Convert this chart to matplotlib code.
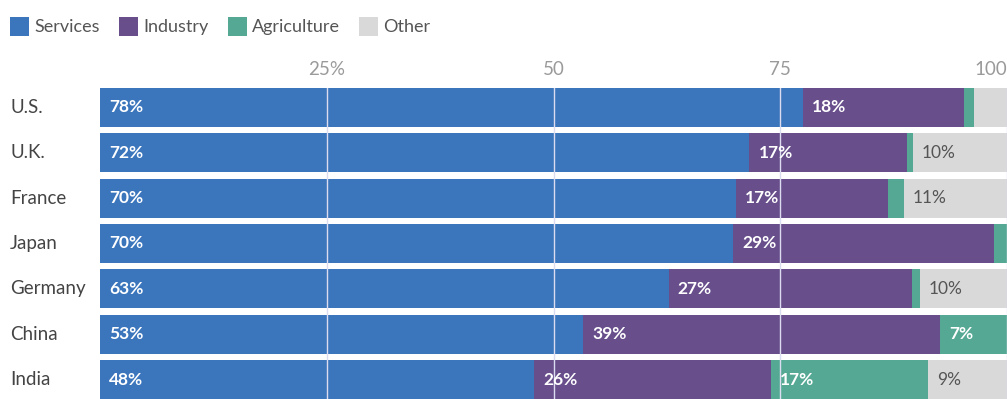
import matplotlib.pyplot as plt
from matplotlib.patches import Patch

plt.rcParams['font.family'] = ['Lato', 'DejaVu Sans']

countries = ['U.S.', 'U.K.', 'France', 'Japan', 'Germany', 'China', 'India']
services = [77.5, 71.6, 70.1, 69.8, 62.7, 53.3, 47.9]
industry = [17.8, 17.4, 16.8, 28.8, 26.8, 39.3, 26.1]
agriculture = [1.1, 0.6, 1.7, 1.4, 0.9, 7.4, 17.3]
other = [3.6, 10.4, 11.4, 0.0, 9.6, 0.0, 8.7]

series = [('Services', services, '#3b76bd', 'white'),
          ('Industry', industry, '#684f8c', 'white'),
          ('Agriculture', agriculture, '#55a894', 'white'),
          ('Other', other, '#d9d9d9', '#555555')]

fig = plt.figure(figsize=(10.07, 3.99), dpi=100)
ax = fig.add_axes([100 / 1007, 0, 907 / 1007, 311 / 399])

ypos = range(len(countries))
left = [0.0] * len(countries)
for name, vals, col, tcol in series:
    ax.barh(ypos, vals, left=left, height=0.86, color=col, zorder=1)
    for i, v in enumerate(vals):
        if v >= 5:
            ax.text(left[i] + 1.0, i, f'{v:.0f}%', ha='left', va='center',
                    color=tcol, fontsize=12.5,
                    fontweight='bold' if tcol == 'white' else 'normal',
                    zorder=3)
    left = [a + b for a, b in zip(left, vals)]

ax.set_xlim(0, 100)
ax.set_ylim(6.43, -0.43)
ax.set_yticks([])
ax.xaxis.tick_top()
ax.set_xticks([25, 50, 75, 100])
ax.set_xticklabels(['25%', '50', '75', '100'], color='#9a9a9a', fontsize=13.5)
ax.xaxis.get_majorticklabels()[-1].set_horizontalalignment('right')
ax.tick_params(axis='x', length=0, pad=7)
ax.grid(axis='x', color='#dcdcf0', linewidth=1, zorder=2)
ax.set_axisbelow(False)
for s in ax.spines.values():
    s.set_visible(False)

for i, c in enumerate(countries):
    ax.text(-90 / 9.07, i, c, ha='left', va='center', color='#444444',
            fontsize=13.5, clip_on=False)

handles = [Patch(facecolor=col, edgecolor='none', label=name)
           for name, vals, col, tcol in series]
fig.legend(handles=handles, loc='upper left', bbox_to_anchor=(-0.006, 0.998),
           ncol=4, frameon=False, fontsize=13, handlelength=1.05,
           handleheight=1.2, handletextpad=0.3, columnspacing=1.05,
           labelcolor='#555555')

fig.savefig('out.png', dpi=100)
